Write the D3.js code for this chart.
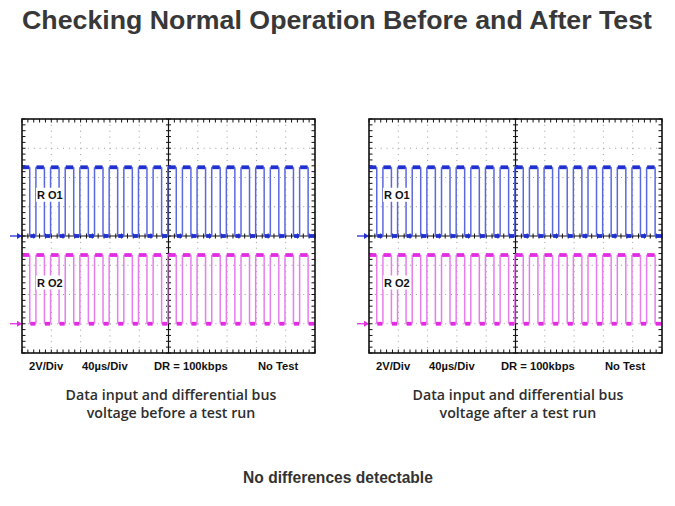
<!DOCTYPE html>
<html>
<head>
  <meta charset="utf-8">
  <script src="https://cdnjs.cloudflare.com/ajax/libs/d3/7.8.5/d3.min.js"></script>
  <style>
    body, html {
      margin: 0;
      padding: 0;
      background: white;
      overflow: hidden;
    }
    .title { font-family: 'Liberation Sans', Arial, sans-serif; font-weight: bold; fill: #383838; }
    .caption { font-family: 'Open Sans', sans-serif; font-weight: 600; fill: #2e2e2e; }
    .foot { font-family: 'Liberation Sans', Arial, sans-serif; font-weight: bold; fill: #333; }
    .scaleText { font-family: 'Liberation Sans', Arial, sans-serif; font-weight: bold; fill: #111; }
    .chLabel { font-family: 'Liberation Sans', Arial, sans-serif; font-weight: bold; fill: #111; }
  </style>
</head>
<body>
  <svg id="mySVG" width="675" height="506"></svg>
  <script>
    // scope settings: 40us/div x 10 div, 2V/div x 8 div
    const timeRange = [0, 400];
    const voltRange = [-8, 8];
    const bitUs = 10;

    // received bits (100 kbps alternating pattern), same before and after
    const bits = [1, 0, 1, 0, 1, 0, 1, 0, 1, 0, 1, 0, 1, 0, 1, 0, 1, 0, 1, 0,
                  1, 0, 1, 0, 1, 0, 1, 0, 1, 0, 1, 0, 1, 0, 1, 0, 1, 0, 1, 0];

    const channelNames = ["RO1", "RO2"];
    const channelOffsets = [0, -6];   // ground marker, volts
    const channelHigh = [4.7, 4.7];   // high level, volts

    const scaleLabels = ["2V/Div", "40\u00b5s/Div", "DR = 100kbps", "No Test"];
    const captions = [
      ["Data input and differential bus", "voltage before a test run"],
      ["Data input and differential bus", "voltage after a test run"]
    ];
    const titleText = "Checking Normal Operation Before and After Test";
    const footText = "No differences detectable";

    const chColors = [{ flat: "#1f2fd0", edge: "#5a68e0" }, { flat: "#e22ce2", edge: "#e77ded" }];

    const svg = d3.select('#mySVG');

    svg.append('text').attr('class', 'title')
      .attr('x', 22).attr('y', 29)
      .attr('textLength', 630)
      .attr('lengthAdjust', 'spacingAndGlyphs')
      .style('font-size', '26px')
      .text(titleText);

    svg.append('text').attr('class', 'foot')
      .attr('x', 338).attr('y', 483)
      .attr('text-anchor', 'middle')
      .style('font-size', '15.6px')
      .text(footText);

    const scopeLefts = [22, 369];
    const scopeTop = 119, w = 293, h = 234;

    function segmentsFor(bitList) {
      // each bit becomes a level segment; rising edges lead a little, falling edges lag
      let segs = [];
      for (let i = 0; i < bitList.length; i++) {
        let t0 = i == 0 ? 0 : i * bitUs + (bitList[i] ? -1 : 0.6);
        let t1 = i == bitList.length - 1 ? timeRange[1] : (i + 1) * bitUs + (bitList[i + 1] ? -1 : 0.6);
        segs.push({ t0: t0, t1: t1, level: bitList[i] });
      }
      return segs;
    }

    function drawScope(left, idx) {
      const x = d3.scaleLinear().domain(timeRange).range([left, left + w]);
      const y = d3.scaleLinear().domain(voltRange).range([scopeTop + h, scopeTop]);
      const g = svg.append('g');

      const majorX = d3.range(0, 401, 40);
      const majorY = d3.range(-8, 8.01, 2);
      const minorX = d3.range(0, 400.1, 8);
      const minorY = d3.range(-8, 8.01, 0.4);

      // dotted grid
      g.selectAll('.vgrid').data(majorX.slice(1, -1).filter(d => d != 200)).join('line')
        .attr('x1', d => x(d)).attr('x2', d => x(d))
        .attr('y1', scopeTop).attr('y2', scopeTop + h)
        .attr('stroke', '#9a9a9a').attr('stroke-width', 1)
        .attr('stroke-dasharray', '1,4.85');
      g.selectAll('.hgrid').data(majorY.slice(1, -1).filter(d => d != 0)).join('line')
        .attr('y1', d => y(d)).attr('y2', d => y(d))
        .attr('x1', left).attr('x2', left + w)
        .attr('stroke', '#9a9a9a').attr('stroke-width', 1)
        .attr('stroke-dasharray', '1,4.86');

      // center axes
      g.append('line').attr('x1', x(200)).attr('x2', x(200)).attr('y1', scopeTop).attr('y2', scopeTop + h)
        .attr('stroke', '#111').attr('stroke-width', 1.2);
      g.append('line').attr('y1', y(0)).attr('y2', y(0)).attr('x1', left).attr('x2', left + w)
        .attr('stroke', '#111').attr('stroke-width', 1.2);

      g.selectAll('.cxt').data(minorY).join('line')
        .attr('x1', x(200) - 2.5).attr('x2', x(200) + 2.5)
        .attr('y1', d => y(d)).attr('y2', d => y(d))
        .attr('stroke', '#111').attr('stroke-width', 1);
      g.selectAll('.cyt').data(minorX).join('line')
        .attr('y1', y(0) - 2.5).attr('y2', y(0) + 2.5)
        .attr('x1', d => x(d)).attr('x2', d => x(d))
        .attr('stroke', '#111').attr('stroke-width', 1);

      // border ticks
      g.selectAll('.btop').data(minorX).join('line')
        .attr('x1', d => x(d)).attr('x2', d => x(d))
        .attr('y1', scopeTop).attr('y2', scopeTop + 3.5)
        .attr('stroke', '#111').attr('stroke-width', 1);
      g.selectAll('.bbot').data(minorX).join('line')
        .attr('x1', d => x(d)).attr('x2', d => x(d))
        .attr('y1', scopeTop + h - 3.5).attr('y2', scopeTop + h)
        .attr('stroke', '#111').attr('stroke-width', 1);
      g.selectAll('.bl').data(minorY).join('line')
        .attr('x1', left).attr('x2', left + 3.5)
        .attr('y1', d => y(d)).attr('y2', d => y(d))
        .attr('stroke', '#111').attr('stroke-width', 1);
      g.selectAll('.br').data(minorY).join('line')
        .attr('x1', left + w - 3.5).attr('x2', left + w)
        .attr('y1', d => y(d)).attr('y2', d => y(d))
        .attr('stroke', '#111').attr('stroke-width', 1);

      // traces
      const segs = segmentsFor(bits);
      channelNames.forEach((name, c) => {
        const base = channelOffsets[c];
        const hi = base + channelHigh[c];
        const lv = d => d.level ? hi : base;
        const tg = g.append('g');

        // edges
        tg.selectAll('.edge').data(segs.slice(1)).join('line')
          .attr('x1', d => x(d.t0)).attr('x2', d => x(d.t0))
          .attr('y1', y(base)).attr('y2', y(hi))
          .attr('stroke', chColors[c].edge).attr('stroke-width', 1.5);
        // thin plateau line
        tg.selectAll('.flat').data(segs).join('line')
          .attr('x1', d => x(d.t0)).attr('x2', d => x(d.t1))
          .attr('y1', d => y(lv(d))).attr('y2', d => y(lv(d)))
          .attr('stroke', chColors[c].edge).attr('stroke-width', 1.5);
        // noisy thick plateau
        tg.selectAll('.blob').data(segs).join('line')
          .attr('x1', d => x(d.t0 + 0.8)).attr('x2', d => x(d.t1 - 0.8))
          .attr('y1', d => y(lv(d))).attr('y2', d => y(lv(d)))
          .attr('stroke', chColors[c].flat).attr('stroke-width', 3.8);

        // ground marker arrow at left
        const ay = y(base);
        g.append('line').attr('x1', left - 12).attr('x2', left - 1)
          .attr('y1', ay).attr('y2', ay)
          .attr('stroke', chColors[c].flat).attr('stroke-width', 1.3);
        g.append('path')
          .attr('d', `M ${left - 5} ${ay - 3} L ${left} ${ay} L ${left - 5} ${ay + 3} Z`)
          .attr('fill', chColors[c].flat);

        // channel label
        const lyv = base + channelHigh[c] * 0.6;
        g.append('rect').attr('x', left + 14).attr('y', y(lyv) - 7)
          .attr('width', 25).attr('height', 14).attr('fill', 'white');
        g.append('text').attr('class', 'chLabel')
          .attr('x', left + 15).attr('y', y(lyv) + 4)
          .style('font-size', '11px')
          .text(name.replace('R', 'R '));
      });

      // frame
      g.append('rect').attr('x', left).attr('y', scopeTop).attr('width', w).attr('height', h)
        .attr('fill', 'none').attr('stroke', '#111').attr('stroke-width', 1.6);

      // scale settings text
      const labelX = [7, 60, 132, 236];
      g.selectAll('.scaleText').data(scaleLabels).join('text')
        .attr('class', 'scaleText')
        .attr('x', (d, i) => left + labelX[i]).attr('y', scopeTop + h + 17)
        .style('font-size', '11.2px')
        .text(d => d);

      // caption
      g.selectAll('.cap').data(captions[idx]).join('text')
        .attr('class', 'caption')
        .attr('x', x(200) + 2.5)
        .attr('y', (d, i) => 400 + i * 17.5)
        .attr('text-anchor', 'middle')
        .style('font-size', '14.2px')
        .text(d => d);
    }

    scopeLefts.forEach((l, i) => drawScope(l, i));
  </script>
</body>
</html>
